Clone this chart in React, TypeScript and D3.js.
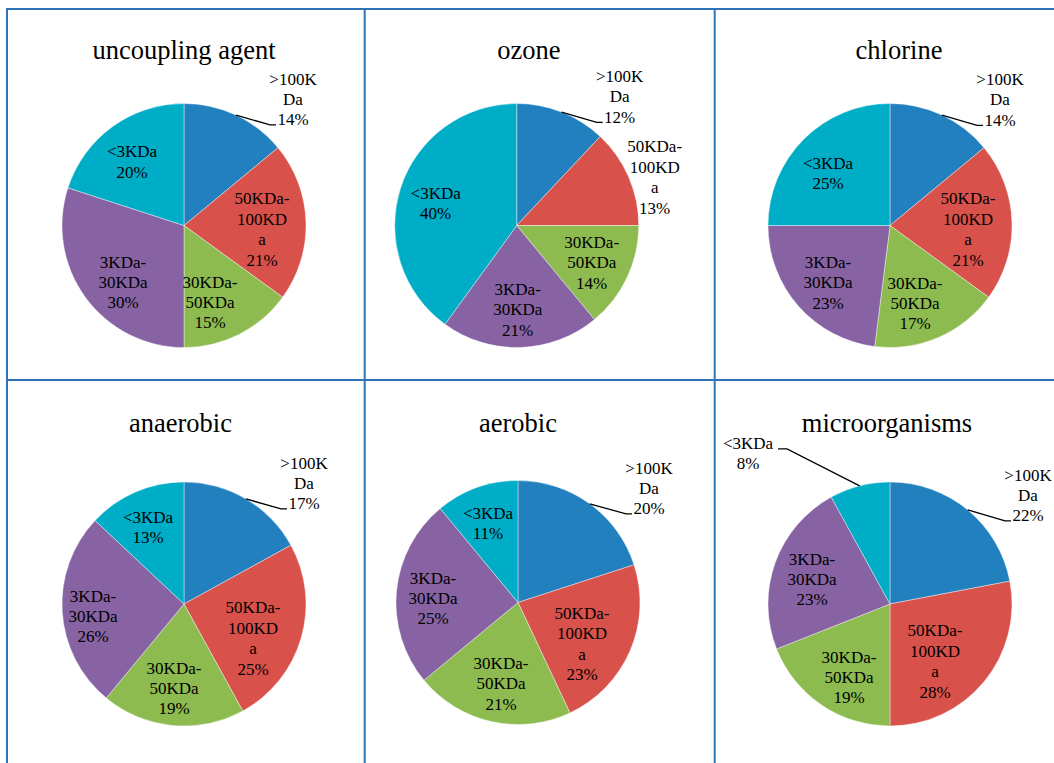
import React from "react";
import * as d3 from "d3";

// Molecular-weight fractions (%) for each treatment, clockwise from 12 o'clock
const categories = [">100KDa", "50KDa-100KDa", "30KDa-50KDa", "3KDa-30KDa", "<3KDa"];
const panelTitles = ["uncoupling agent", "ozone", "chlorine", "anaerobic", "aerobic", "microorganisms"];
const uncouplingValues = [14, 21, 15, 30, 20];
const ozoneValues = [12, 13, 14, 21, 40];
const chlorineValues = [14, 21, 17, 23, 25];
const anaerobicValues = [17, 25, 19, 26, 13];
const aerobicValues = [20, 23, 21, 25, 11];
const microValues = [22, 28, 19, 23, 8];
const seriesValues = [uncouplingValues, ozoneValues, chlorineValues, anaerobicValues, aerobicValues, microValues];

// Text lines for each category label (the percentage line is appended)
const labelLines = [
  [">100K", "Da"],
  ["50KDa-", "100KD", "a"],
  ["30KDa-", "50KDa"],
  ["3KDa-", "30KDa"],
  ["<3KDa"],
];

const colors = ["#2380BF", "#D9514B", "#8DBB50", "#8763A3", "#00ADC7"];

// Layout: pie centres, title anchors, label block offsets from the pie centre
type Layout = {
  cx: number;
  cy: number;
  tx: number;
  ty: number;
  offsets: [number, number][];
  leaders: ("right" | "left" | null)[];
  lineOverrides?: (string[] | null)[];
};

const R = 122;
const layouts: Layout[] = [
  {
    cx: 184, cy: 225.5, tx: 184, ty: 59,
    offsets: [[109, -126.5], [78, 3.5], [26, 76.5], [-61, 56.5], [-52, -64]],
    leaders: ["right", null, null, null, null],
  },
  {
    cx: 516.7, cy: 225.5, tx: 529, ty: 59,
    offsets: [[103, -129], [138, -48.5], [75, 37], [1, 84], [-81, -22.5]],
    leaders: ["right", null, null, null, null],
  },
  {
    cx: 890, cy: 225.5, tx: 899, ty: 59,
    offsets: [[110, -126], [78, 3.5], [25, 77.5], [-62, 57], [-62, -52.5]],
    leaders: ["right", null, null, null, null],
  },
  {
    cx: 184, cy: 604, tx: 180.5, ty: 432,
    offsets: [[120, -121], [69, 34], [-10, 84], [-91, 12], [-36, -77]],
    leaders: ["right", null, null, null, null],
  },
  {
    cx: 518, cy: 602.5, tx: 518, ty: 432,
    offsets: [[131, -114.5], [64, 41], [-17, 81], [-85, -4.5], [-30, -79.5]],
    leaders: ["right", null, null, null, null],
  },
  {
    cx: 890, cy: 604, tx: 887, ty: 432,
    offsets: [[138, -109], [45, 57], [-41, 73], [-78, -25], [-142, -151]],
    leaders: ["right", null, null, null, "left"],
  },
];

const gridX = [7, 364.7, 714.7, 1060];
const gridY = [9, 380, 770];

const LABEL_FONT = 17;
const LINE_H = 20.4;
const FONT = "'Liberation Serif', 'Times New Roman', serif";

function PiePanel({ values, title, layout }: { values: number[]; title: string; layout: Layout }) {
  const pie = d3
    .pie<number>()
    .value((d) => d)
    .sort(null)
    .startAngle(0)
    .endAngle(2 * Math.PI);
  const arcs = pie(values);
  const arc = d3.arc<d3.PieArcDatum<number>>().innerRadius(0).outerRadius(R);
  const edgeArc = d3.arc<d3.PieArcDatum<number>>().innerRadius(R).outerRadius(R);
  const { cx, cy } = layout;

  return (
    <g>
      <text
        x={layout.tx}
        y={layout.ty}
        textAnchor="middle"
        fontFamily={FONT}
        fontSize={26.5}
        fill="#000"
      >
        {title}
      </text>
      <g transform={`translate(${cx},${cy})`}>
        {arcs.map((a, i) => (
          <path key={i} d={arc(a) || ""} fill={colors[i]} stroke="#ffffff" strokeWidth={0.4} />
        ))}
      </g>
      {arcs.map((a, i) => {
        const [ox, oy] = layout.offsets[i];
        const lx = cx + ox;
        const lines = [...labelLines[i], `${values[i]}%`];
        const blockCy = cy + oy;
        const firstY = blockCy - ((lines.length - 1) * LINE_H) / 2;
        const lastY = firstY + (lines.length - 1) * LINE_H;
        const side = layout.leaders[i];
        let leader: string | null = null;
        if (side) {
          const [ex, ey] = edgeArc.centroid(a);
          const sx = cx + ex;
          const sy = cy + ey;
          if (side === "right") {
            const y = lastY + 5.5;
            leader = d3.line()([
              [sx, sy],
              [lx - 23, y],
              [lx - 17, y],
            ]) as string;
          } else {
            const y = firstY + 6;
            leader = d3.line()([
              [sx, sy],
              [lx + 39, y],
              [lx + 30, y],
            ]) as string;
          }
        }
        return (
          <g key={`l${i}`}>
            {leader && <path d={leader} fill="none" stroke="#000" strokeWidth={1.3} />}
            <text
              textAnchor="middle"
              fontFamily={FONT}
              fontSize={LABEL_FONT}
              fill="#000"
            >
              {lines.map((t, k) => (
                <tspan key={k} x={lx} y={firstY + k * LINE_H} dy="0.35em">
                  {t}
                </tspan>
              ))}
            </text>
          </g>
        );
      })}
    </g>
  );
}

export default function App() {
  const width = 1054;
  const height = 763;
  return (
    <svg
      width={width}
      height={height}
      style={{ position: "absolute", left: 0, top: 0, background: "#fff" }}
    >
      <rect width={width} height={height} fill="#fff" />
      {seriesValues.map((vals, i) => (
        <PiePanel key={i} values={vals} title={panelTitles[i]} layout={layouts[i]} />
      ))}
      {gridX.map((x, i) => (
        <line key={`gx${i}`} x1={x} x2={x} y1={gridY[0] - 1} y2={height + 10} stroke="#2E75B6" strokeWidth={2} />
      ))}
      {gridY.map((y, i) => (
        <line key={`gy${i}`} x1={gridX[0] - 1} x2={width + 10} y1={y} y2={y} stroke="#2E75B6" strokeWidth={2} />
      ))}
    </svg>
  );
}
